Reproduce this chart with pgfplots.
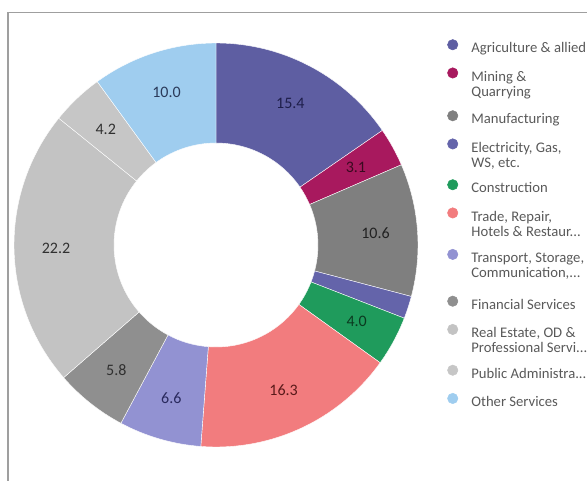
\documentclass[border=0pt]{standalone}
\usepackage{pgfplots}
\pgfplotsset{compat=1.18}
\usepackage{pgfplotstable}
\usepackage{fontspec}
\setmainfont{Carlito}

\definecolor{cA}{HTML}{5E5EA2}
\definecolor{cB}{HTML}{A8195E}
\definecolor{cC}{HTML}{7F7F7F}
\definecolor{cD}{HTML}{6464AA}
\definecolor{cE}{HTML}{1F9B5C}
\definecolor{cF}{HTML}{F27C7E}
\definecolor{cG}{HTML}{9292D2}
\definecolor{cH}{HTML}{8F8F8F}
\definecolor{cI}{HTML}{C3C3C3}
\definecolor{cJ}{HTML}{C6C6C6}
\definecolor{cK}{HTML}{9FCDEF}
\definecolor{tA}{HTML}{1E1E4A}
\definecolor{tB}{HTML}{3A0A20}
\definecolor{tC}{HTML}{222222}
\definecolor{tE}{HTML}{0B3A20}
\definecolor{tF}{HTML}{5A1A1A}
\definecolor{tG}{HTML}{2A2A5E}
\definecolor{tH}{HTML}{303030}
\definecolor{tK}{HTML}{2A3A5A}
\definecolor{legtext}{HTML}{595959}

% share of each sector, clockwise from 12 o'clock
\pgfplotstableread{
v    fc  tc  show
15.4 cA  tA  1
3.1  cB  tB  1
10.6 cC  tC  1
1.8  cD  tC  0
4.0  cE  tE  1
16.3 cF  tF  1
6.6  cG  tG  1
5.8  cH  tH  1
22.2 cI  tH  1
4.2  cJ  tH  1
10.0 cK  tK  1
}\shares

\pgfplotsset{legdepth/.initial=2pt}

\begin{document}
\begin{tikzpicture}[x=0.75pt,y=0.75pt]
\useasboundingbox (0,0) rectangle (587,480);
\draw[gray!75, line width=0.8pt] (8,-10) -- (8,467.5) -- (620,467.5);
\begin{axis}[
    x=0.75pt, y=0.75pt, xmin=0, xmax=587, ymin=0, ymax=480,
    at={(0,0)}, anchor=south west, hide axis, clip=false,
    /pgf/number format/assume math mode=true,
    legend image code/.code={\fill[#1] (0pt,3pt) circle (3.9pt);
      \path[draw=none,fill=none] (0pt,3pt) -- (12.5pt,-\pgfkeysvalueof{/pgfplots/legdepth});},
    legend cell align=left,
    legend style={at={(axis cs:447,441)}, anchor=north west, draw=none, fill=none,
      inner sep=0pt, row sep=8pt, font=\fontsize{11}{11.5}\selectfont, text=legtext,
      nodes={inner sep=1.5pt}},
  ]
  \coordinate (O) at (axis cs:216,235);
  \def\total{0}
  \pgfplotstablegetrowsof{\shares}
  \pgfmathtruncatemacro\last{\pgfplotsretval-1}
  \pgfplotsforeachungrouped \i in {0,...,\last}{%
    \pgfplotstablegetelem{\i}{v}\of\shares
    \pgfmathsetmacro\total{\total+\pgfplotsretval}%
  }
  \def\cum{0}
  \pgfplotsforeachungrouped \i in {0,...,\last}{%
    \pgfplotstablegetelem{\i}{v}\of\shares \let\val\pgfplotsretval
    \pgfplotstablegetelem{\i}{fc}\of\shares \let\fc\pgfplotsretval
    \pgfplotstablegetelem{\i}{tc}\of\shares \let\tc\pgfplotsretval
    \pgfplotstablegetelem{\i}{show}\of\shares \let\show\pgfplotsretval
    \pgfmathsetmacro\aA{90-(\cum/\total)*360}%
    \pgfmathsetmacro\cum{\cum+\val}%
    \pgfmathsetmacro\aB{90-(\cum/\total)*360}%
    \pgfmathsetmacro\aM{(\aA+\aB)/2}%
    \edef\temp{\noexpand\fill[\fc, draw=white, line width=0.3pt]
      ([shift={(\aA:151.5pt)}]O) arc[start angle=\aA, end angle=\aB, radius=151.5pt]
      -- ([shift={(\aB:76.5pt)}]O) arc[start angle=\aB, end angle=\aA, radius=76.5pt] -- cycle;}%
    \temp
    \ifnum\show=1
      \edef\temp{\noexpand\node[text=\tc, font=\noexpand\fontsize{12}{12}\noexpand\selectfont]
        at ([shift={(\aM:120pt)}]O) {\noexpand\pgfmathprintnumber[fixed,fixed zerofill,precision=1,assume math mode=true]{\val}};}%
      \temp
    \fi
  }
  \addlegendimage{cA, fill=cA}\addlegendentry{Agriculture \& allied}
  \addlegendimage{cB, fill=cB, legdepth=17pt}\addlegendentry{\parbox[t]{4cm}{Mining \&\\Quarrying}}
  \addlegendimage{cC, fill=cC}\addlegendentry{Manufacturing}
  \addlegendimage{cD, fill=cD, legdepth=15.5pt}\addlegendentry{\parbox[t]{4cm}{Electricity, Gas,\\WS, etc.}}
  \addlegendimage{cE, fill=cE}\addlegendentry{Construction}
  \addlegendimage{cF, fill=cF, legdepth=16pt}\addlegendentry{\parbox[t]{4cm}{Trade, Repair,\\Hotels \& Restaur...}}
  \addlegendimage{cG, fill=cG, legdepth=20pt}\addlegendentry{\parbox[t]{4cm}{Transport, Storage,\\Communication,...}}
  \addlegendimage{cH, fill=cH}\addlegendentry{Financial Services}
  \addlegendimage{cI, fill=cI, legdepth=15.5pt}\addlegendentry{\parbox[t]{4cm}{Real Estate, OD \&\\Professional Servi...}}
  \addlegendimage{cJ, fill=cJ}\addlegendentry{Public Administra...}
  \addlegendimage{cK, fill=cK}\addlegendentry{Other Services}
\end{axis}
\end{tikzpicture}
\end{document}
